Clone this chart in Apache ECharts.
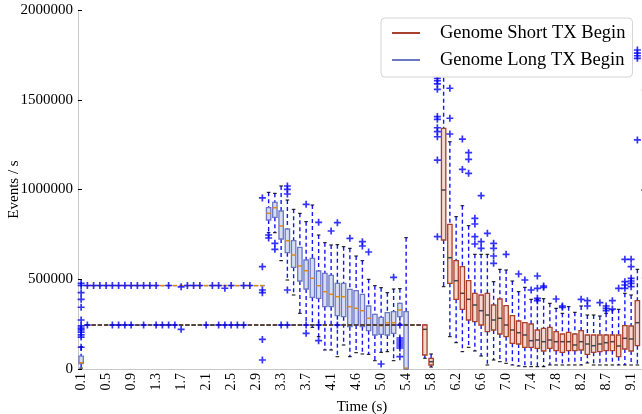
<!DOCTYPE html>
<html>
<head>
<meta charset="utf-8">
<script src="https://cdn.jsdelivr.net/npm/echarts@6/dist/echarts.min.js"></script>
<style>
  html, body { margin: 0; padding: 0; overflow: hidden; background: #fff; }
  #chart { width: 680px; height: 414px; }
</style>
</head>
<body>
<div id="chart"></div>
<script>
// time bins (s), one box per bin
var categories = [
  '0.1','0.2','0.3','0.4','0.5','0.6','0.7','0.8','0.9','1.0',
  '1.1','1.2','1.3','1.4','1.5','1.6','1.7','1.8','1.9','2.0',
  '2.1','2.2','2.3','2.4','2.5','2.6','2.7','2.8','2.9','3.0',
  '3.1','3.2','3.3','3.4','3.5','3.6','3.7','3.8','3.9','4.0',
  '4.1','4.2','4.3','4.5','4.6','4.7','4.8','4.9','5.0','5.1',
  '5.2','5.3','5.4','5.5','5.6','5.7','5.8','5.9','6.0','6.1',
  '6.2','6.3','6.4','6.5','6.6','6.7','6.8','6.9','7.0','7.1',
  '7.2','7.3','7.4','7.5','7.6','7.7','7.8','7.9','8.0','8.1',
  '8.2','8.3','8.4','8.6','8.7','8.8','8.9','9.0','9.1','9.2',
  '9.3','9.4'
];

// [bin, low whisker, q1, median, q3, high whisker]
var shortStats = [
  [1,245000,245000,245000,245000,245000],[2,245000,245000,245000,245000,245000],
  [3,245000,245000,245000,245000,245000],[4,245000,245000,245000,245000,245000],
  [5,245000,245000,245000,245000,245000],[6,245000,245000,245000,245000,245000],
  [7,245000,245000,245000,245000,245000],[8,245000,245000,245000,245000,245000],
  [9,245000,245000,245000,245000,245000],[10,245000,245000,245000,245000,245000],
  [11,245000,245000,245000,245000,245000],[12,245000,245000,245000,245000,245000],
  [13,245000,245000,245000,245000,245000],[14,245000,245000,245000,245000,245000],
  [15,245000,245000,245000,245000,245000],[16,245000,245000,245000,245000,245000],
  [17,245000,245000,245000,245000,245000],[18,245000,245000,245000,245000,245000],
  [19,245000,245000,245000,245000,245000],[20,245000,245000,245000,245000,245000],
  [21,245000,245000,245000,245000,245000],[22,245000,245000,245000,245000,245000],
  [23,245000,245000,245000,245000,245000],[24,245000,245000,245000,245000,245000],
  [25,245000,245000,245000,245000,245000],[26,245000,245000,245000,245000,245000],
  [27,245000,245000,245000,245000,245000],[28,245000,245000,245000,245000,245000],
  [29,245000,245000,245000,245000,245000],[30,245000,245000,245000,245000,245000],
  [31,245000,245000,245000,245000,245000],[32,245000,245000,245000,245000,245000],
  [33,245000,245000,245000,245000,245000],[34,245000,245000,245000,245000,245000],
  [35,245000,245000,245000,245000,245000],[36,245000,245000,245000,245000,245000],
  [37,245000,245000,245000,245000,245000],[38,245000,245000,245000,245000,245000],
  [39,245000,245000,245000,245000,245000],[40,245000,245000,245000,245000,245000],
  [41,245000,245000,245000,245000,245000],[42,245000,245000,245000,245000,245000],
  [43,245000,245000,245000,245000,245000],[44,245000,245000,245000,245000,245000],
  [45,245000,245000,245000,245000,245000],[46,245000,245000,245000,245000,245000],
  [47,245000,245000,245000,245000,245000],[48,245000,245000,245000,245000,245000],
  [49,245000,245000,245000,245000,245000],[50,245000,245000,245000,245000,245000],
  [51,245000,245000,245000,245000,245000],[52,245000,245000,245000,245000,245000],
  [53,245000,245000,245000,245000,245000],[54,245000,245000,245000,245000,245000],
  [55,60000,78000,221000,245000,245000],
  [56,11000,22300,40700,59600,83600],
  [58,458500,718700,997200,1341000,1700000],
  [59,180000,477400,620000,806100,1266000],
  [60,146500,388300,491900,603300,848500],
  [61,96400,332600,421700,569900,909700],
  [62,120900,272900,388300,491900,798300],
  [63,100300,263500,356500,421700,639000],
  [64,72400,245100,324800,412300,639000],
  [65,22300,207800,300800,421700,639000],
  [66,50100,217300,273000,356500,486400],
  [67,40700,195000,282500,390000,555400],
  [68,31800,180000,245100,352600,551500],
  [69,22300,143200,217300,296900,490200],
  [70,16700,139300,202200,267400,430600],
  [71,12800,120900,189400,257900,455100],
  [72,12800,120900,157700,250700,388300],
  [73,12800,115300,161600,217300,388300],
  [74,12800,100300,152100,226700,391600],
  [75,22300,115300,161600,232300,366000],
  [76,22300,101900,152100,207800,338200],
  [77,22300,93000,152100,195000,310300],
  [78,22300,101900,152100,204500,347100],
  [79,22300,101900,133700,195000,315900],
  [80,22300,105800,152100,213400,351000],
  [81,33400,81900,139300,189400,300800],
  [82,22300,93000,129800,189400,300800],
  [83,22300,96400,139300,189400,295300],
  [84,22300,101900,146500,189400,310300],
  [85,22300,101900,152100,189400,328700],
  [86,22300,68500,128100,189400,332600],
  [87,22300,111400,171000,241200,421700],
  [88,22300,100300,167100,239600,412300],
  [89,22300,129800,257900,380500,555400],
  [90,507000,997000,997000,997000,1554000]
];

var longStats = [
  [0,5000,30000,35000,72000,124000],
  [1,465000,465000,465000,465000,465000],[2,465000,465000,465000,465000,465000],
  [3,465000,465000,465000,465000,465000],[4,465000,465000,465000,465000,465000],
  [5,465000,465000,465000,465000,465000],[6,465000,465000,465000,465000,465000],
  [7,465000,465000,465000,465000,465000],[8,465000,465000,465000,465000,465000],
  [9,465000,465000,465000,465000,465000],[10,465000,465000,465000,465000,465000],
  [11,465000,465000,465000,465000,465000],[12,465000,465000,465000,465000,465000],
  [13,465000,465000,465000,465000,465000],[14,465000,465000,465000,465000,465000],
  [15,465000,465000,465000,465000,465000],[16,465000,465000,465000,465000,465000],
  [17,465000,465000,465000,465000,465000],[18,465000,465000,465000,465000,465000],
  [19,465000,465000,465000,465000,465000],[20,465000,465000,465000,465000,465000],
  [21,465000,465000,465000,465000,465000],[22,465000,465000,465000,465000,465000],
  [23,465000,465000,465000,465000,465000],[24,465000,465000,465000,465000,465000],
  [25,465000,465000,465000,465000,465000],[26,465000,465000,465000,465000,465000],
  [27,465000,465000,465000,465000,465000],[28,465000,465000,465000,465000,465000],
  [29,465000,465000,465000,465000,465000],
  [30,759300,830100,867400,898600,984400],
  [31,759300,845100,898600,928700,978800],
  [32,603300,724200,796700,880200,1019500],
  [33,495800,647900,714800,779900,941500],
  [34,412300,566600,635100,714800,889700],
  [35,310300,490200,573800,678000,867400],
  [36,245100,445700,547600,607200,820600],
  [37,232300,399400,505300,616700,913600],
  [38,180000,393900,464000,546000,746500],
  [39,105800,347100,430600,533100,703600],
  [40,105800,347100,416200,522000,690800],
  [41,68500,296900,402800,477400,692500],
  [42,133700,291400,402800,477400,681300],
  [43,68500,235700,347100,444000,672400],
  [44,90800,245100,338200,436200,629500],
  [45,83600,235700,324800,416200,603300],
  [46,81900,213400,282500,351000,499700],
  [47,46200,189400,245100,304700,464000],
  [48,93000,193300,241200,288000,452900],
  [49,96400,189400,257900,313600,425100],
  [50,46200,198900,257900,319200,445700],
  [51,250700,291400,328700,366000,447400],
  [52,0,0,5000,319200,731500]
];

// [bin, value] fliers
var shortOutliers = [
  [1,245000],[5,245000],[6,245000],[7,245000],[8,245000],[10,245000],[12,245000],
  [13,245000],[14,245000],[15,245000],[16,221000],[20,245000],[22,245000],[23,245000],
  [24,245000],[25,245000],[26,245000],[32,245000],[33,245000],[36,245000],[38,245000],
  [41,245000],[51,245000],
  [57,1619000],[57,1606000],[57,1588000],[57,1558000],[57,1406000],[57,1391000],
  [57,1344000],[57,1322000],[57,1294000],[57,1164000],[57,737000],
  [59,1564000],[59,1397000],[59,1309000],
  [61,1281000],[61,1112000],
  [62,1205000],[62,1168000],[62,1090000],
  [63,839500],[63,807800],[63,737000],[63,696400],
  [64,965500],[64,709200],[64,672400],
  [65,756000],
  [66,700300],[66,672400],[66,629500],[66,588900],
  [68,639000],[70,529200],[71,495800],[72,440100],
  [73,518100],[73,449600],[73,393900],[73,380500],
  [74,462400],[74,455100],
  [76,390000],[77,351000],[77,343700],[80,388300],[81,380500],[81,351000],
  [83,369400],[84,351000],[84,338000],[84,325000],[85,380500],[85,334000],[86,449600],
  [87,611100],[87,486400],[87,468000],[87,449600],
  [88,611100],[88,569900],[88,505300],[88,490200],[88,477400],[88,458500],
  [89,1777000],[89,1760000],[89,1745000],[89,1731000],[89,1276000]
];

var longOutliers = [
  [0,477000],[0,465000],[0,425000],[0,388000],[0,344000],[0,273000],[0,240000],
  [0,228000],[0,218000],[0,205000],[0,190000],[0,178000],[0,121000],
  [1,465000],[2,465000],[3,465000],[4,465000],[5,465000],[6,465000],[7,465000],
  [8,465000],[9,465000],[10,465000],[11,465000],[12,465000],[14,465000],[16,458000],
  [17,465000],[18,465000],[19,465000],[21,465000],[22,465000],[23,450000],[24,465000],
  [26,465000],[27,465000],
  [29,953000],[29,570000],[29,440000],[29,425000],[29,165000],[29,50000],
  [30,746500],[30,729800],
  [31,700300],[31,666800],
  [33,1019500],[33,1001000],[33,974900],[33,440100],
  [36,917500],[36,198900],
  [38,817300],[38,157700],
  [40,768800],[41,815000],[43,728100],
  [45,709200],[45,685200],[46,651800],[48,27900],[50,510900],
  [51,172700],[51,161600],[51,150400],[51,139300],[51,128100],[51,117000],[51,68500]
];

var serif = "'Liberation Serif', 'DejaVu Serif', serif";

function boxRenderer(edge, fill, medColor) {
  return function (params, api) {
    var i = api.value(0);
    var lo = api.coord([i, api.value(1)]);
    var q1 = api.coord([i, api.value(2)]);
    var md = api.coord([i, api.value(3)]);
    var q3 = api.coord([i, api.value(4)]);
    var hi = api.coord([i, api.value(5)]);
    var x = lo[0];
    var half = api.size([1, 0])[0] * 0.35;
    var cap = 1.8;
    var dash = { stroke: '#1414ff', lineWidth: 1.4, lineDash: [4, 3] };
    return {
      type: 'group',
      children: [
        { type: 'line', shape: { x1: x, y1: hi[1], x2: x, y2: q3[1] }, style: dash },
        { type: 'line', shape: { x1: x, y1: q1[1], x2: x, y2: lo[1] }, style: dash },
        { type: 'line', shape: { x1: x - cap, y1: hi[1], x2: x + cap, y2: hi[1] }, style: { stroke: '#000', lineWidth: 1 } },
        { type: 'line', shape: { x1: x - cap, y1: lo[1], x2: x + cap, y2: lo[1] }, style: { stroke: '#000', lineWidth: 1 } },
        { type: 'rect', shape: { x: x - half, y: q3[1], width: half * 2, height: q1[1] - q3[1] },
          style: { fill: fill, stroke: edge, lineWidth: 1.3 } },
        { type: 'line', shape: { x1: x - half, y1: md[1], x2: x + half, y2: md[1] }, style: { stroke: medColor, lineWidth: 1.5 } }
      ]
    };
  };
}

var plus = 'path://M3.8,0 L6.2,0 L6.2,3.8 L10,3.8 L10,6.2 L6.2,6.2 L6.2,10 L3.8,10 L3.8,6.2 L0,6.2 L0,3.8 L3.8,3.8 Z';

var chart = echarts.init(document.getElementById('chart'));
chart.setOption({
  animation: false,
  grid: { left: 78, top: 10, width: 575, height: 359, containLabel: false, outerBoundsMode: 'none' },
  legend: {
    orient: 'vertical',
    left: 381, top: 18, z: 10,
    padding: [5, 7, 7, 11],
    itemGap: 7, itemWidth: 28, itemHeight: 2,
    backgroundColor: '#fff', borderColor: '#d4d4d4', borderWidth: 1, borderRadius: 4,
    textStyle: { fontFamily: serif, fontSize: 18.5, color: '#000', lineHeight: 20, padding: [0, 0, 0, 15] },
    data: [
      { name: 'Genome Short TX Begin', icon: 'rect', itemStyle: { color: '#a8412b' } },
      { name: 'Genome Long TX Begin', icon: 'rect', itemStyle: { color: '#6a78c4' } }
    ]
  },
  xAxis: [{
    type: 'category',
    data: categories,
    name: 'Time (s)',
    nameLocation: 'middle',
    nameGap: 31,
    nameMoveOverlap: false,
    nameTextStyle: { fontFamily: serif, fontSize: 15, color: '#000', padding: [0, 7, 0, 0] },
    axisLine: { lineStyle: { color: '#c8c8c8' } },
    axisTick: { inside: true, length: 3, interval: 0, alignWithLabel: true, lineStyle: { color: '#000' } },
    axisLabel: { interval: 3, rotate: 90, margin: 4, fontFamily: serif, fontSize: 14, color: '#000' },
    splitLine: { show: false }
  }, {
    type: 'category',
    data: categories,
    position: 'top',
    axisLine: { show: false },
    axisTick: { inside: true, length: 3, interval: 0, alignWithLabel: true, lineStyle: { color: '#000' } },
    axisLabel: { show: false },
    splitLine: { show: false }
  }],
  yAxis: {
    type: 'value',
    min: 0, max: 2000000, interval: 500000,
    name: 'Events / s',
    nameLocation: 'middle',
    nameGap: 56,
    nameMoveOverlap: false,
    nameTextStyle: { fontFamily: serif, fontSize: 15, color: '#000' },
    axisLine: { show: true, lineStyle: { color: '#c8c8c8' } },
    axisTick: { show: true, inside: true, length: 4, lineStyle: { color: '#000' } },
    axisLabel: { margin: 5, fontFamily: serif, fontSize: 15, color: '#000', formatter: function (v) { return String(v); } },
    splitLine: { show: false }
  },
  series: [{
    name: 'Genome Long TX Begin',
    type: 'custom',
    z: 2,
    itemStyle: { color: '#6a78c4' },
    encode: { x: 0, y: [1, 2, 3, 4, 5] },
    renderItem: boxRenderer('#6a78c4', '#d9ddf2', '#e08a10'),
    data: longStats
  }, {
    name: 'Genome Short TX Begin',
    type: 'custom',
    z: 3,
    itemStyle: { color: '#a8412b' },
    encode: { x: 0, y: [1, 2, 3, 4, 5] },
    renderItem: boxRenderer('#a8412b', '#f3d9d2', '#454545'),
    data: shortStats
  }, {
    name: 'short fliers',
    type: 'scatter',
    z: 4,
    symbol: plus, symbolSize: 7,
    itemStyle: { color: '#0000ff' },
    data: shortOutliers
  }, {
    name: 'long fliers',
    type: 'scatter',
    z: 4,
    symbol: plus, symbolSize: 7,
    itemStyle: { color: '#0000ff' },
    data: longOutliers
  }]
});
</script>
</body>
</html>
